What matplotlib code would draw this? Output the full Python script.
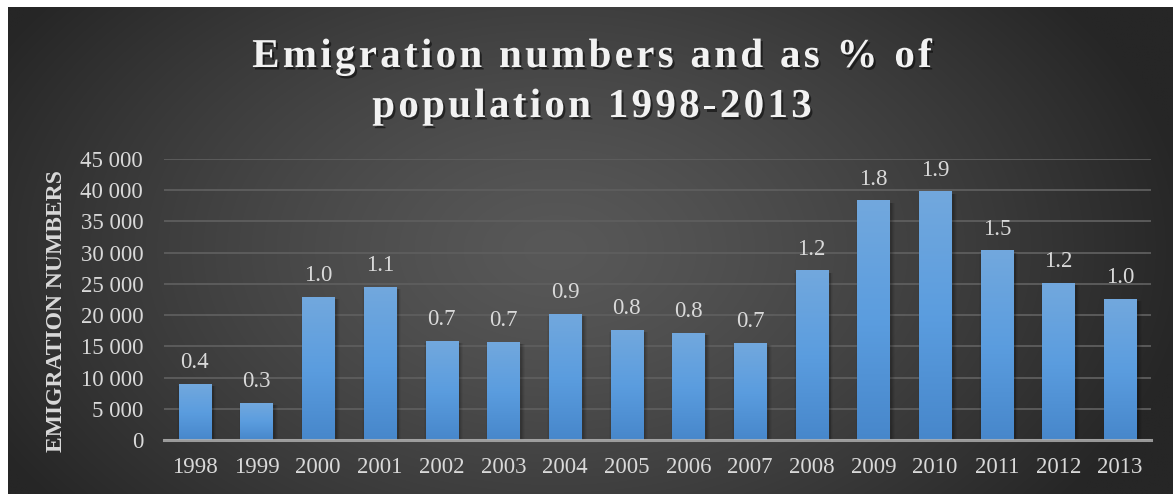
import numpy as np
import matplotlib
matplotlib.use("Agg")
import matplotlib.pyplot as plt
import matplotlib.patheffects as pe
from matplotlib import font_manager
from matplotlib.colors import LinearSegmentedColormap
from matplotlib.ft2font import FT2Font
from matplotlib.ticker import FuncFormatter

# ── Data ──────────────────────────────────────────────────────────────
years = ["1998", "1999", "2000", "2001", "2002", "2003", "2004", "2005",
         "2006", "2007", "2008", "2009", "2010", "2011", "2012", "2013"]
emigrants = [8950, 5900, 22850, 24450, 15800, 15650, 20150, 17550,
             17100, 15500, 27050, 38250, 39700, 30250, 25100, 22550]
pct_population = [0.4, 0.3, 1.0, 1.1, 0.7, 0.7, 0.9, 0.8,
                  0.8, 0.7, 1.2, 1.8, 1.9, 1.5, 1.2, 1.0]
y_ticks = [0, 5000, 10000, 15000, 20000, 25000, 30000, 35000, 40000, 45000]
title_lines = ["Emigration numbers and as % of", "population 1998-2013"]
y_label = "EMIGRATION NUMBERS"

W, H, DPI = 1173, 494, 100
SERIF = "Liberation Serif"
LABEL_COLOR = "#d9d9d9"

fig = plt.figure(figsize=(W / DPI, H / DPI), dpi=DPI, facecolor="white")

# ── Dark radial background ────────────────────────────────────────────
bg = fig.add_axes([8 / W, 0, 1 - 8 / W, 1 - 7 / H])
bg.set_axis_off()
gy, gx = np.mgrid[0:1:300j, 0:1:700j]
r = np.sqrt(((gx - 0.47) / 0.55) ** 2 + ((gy - 0.5) / 0.85) ** 2)
t = np.clip(r, 0, 1) ** 1.3
shade = (88 + (38 - 88) * t) / 255.0
bg.imshow(np.dstack([shade, shade, shade]), extent=[0, 1, 0, 1],
          aspect="auto", interpolation="bilinear")
bg.set_xlim(0, 1)
bg.set_ylim(0, 1)

# ── Plot area ─────────────────────────────────────────────────────────
ax_left, ax_right = 164, 1151
ax_bottom, ax_top = 440, 158.75
ax = fig.add_axes([ax_left / W, (H - ax_bottom) / H,
                   (ax_right - ax_left) / W, (ax_bottom - ax_top) / H])
ax.patch.set_alpha(0)

x = np.arange(len(years))
bar_w = 0.52
px_x = (len(years)) / (ax_right - ax_left)      # data units per pixel (x)
px_y = 45000 / (ax_bottom - ax_top)             # data units per pixel (y)

bar_cmap = LinearSegmentedColormap.from_list("bar", ["#4787cb", "#5b9ddf", "#72a8dd"])
grad = np.linspace(0, 1, 256).reshape(-1, 1)

for xi, v in zip(x, emigrants):
    x0, x1 = xi - bar_w / 2, xi + bar_w / 2
    # soft drop shadow, offset to the lower right
    for k, a in [(7, 0.04), (5, 0.06), (3, 0.08), (1.5, 0.10)]:
        ax.add_patch(plt.Rectangle((x0 + 2 * px_x - k * px_x / 2, -k * px_y),
                                   bar_w + k * px_x, v + k * px_y - 2 * px_y,
                                   facecolor="black", alpha=a, lw=0, zorder=2))
    ax.imshow(grad, extent=[x0, x1, 0, v], origin="lower", cmap=bar_cmap,
              aspect="auto", zorder=3, interpolation="bilinear")

for xi, v, p in zip(x, emigrants, pct_population):
    ax.annotate(f"{p:.1f}", (xi, v), xytext=(0, 11.5), textcoords="offset points",
                ha="center", va="baseline", fontsize=16.5, family=SERIF,
                color=LABEL_COLOR, zorder=5)

ax.set_xlim(-0.5, len(years) - 0.5)
ax.set_ylim(0, 45000)
ax.set_yticks(y_ticks)
ax.yaxis.set_major_formatter(FuncFormatter(lambda v, _: f"{int(v):,}".replace(",", " ")))
ax.set_xticks(x)
ax.set_xticklabels(years)
ax.grid(axis="y", color="#5e5e5e", linewidth=1.3, zorder=1)
ax.set_axisbelow(True)
for s in ["top", "right", "left"]:
    ax.spines[s].set_visible(False)
ax.spines["bottom"].set_color("#b4b4b4")
ax.spines["bottom"].set_alpha(0.8)
ax.spines["bottom"].set_linewidth(2.2)
ax.spines["bottom"].set_zorder(6)
ax.tick_params(axis="both", length=0, labelsize=16.5, labelcolor=LABEL_COLOR)
ax.tick_params(axis="y", pad=15)
ax.tick_params(axis="x", pad=12)
for lab in ax.get_xticklabels() + ax.get_yticklabels():
    lab.set_family(SERIF)

fig.text(57 / W, (H - 311) / H, y_label, rotation=90, ha="center", va="center",
         fontsize=17, fontweight="bold", family=SERIF, color=LABEL_COLOR)

# ── Title with letter spacing ─────────────────────────────────────────
title_props = font_manager.FontProperties(family=SERIF, weight="bold")
title_font = FT2Font(font_manager.findfont(title_props))
title_size = 29.5
title_font.set_size(title_size, 72)
tracking = 3.3  # extra pixels between glyphs
shadow = [pe.SimplePatchShadow(offset=(1.5, -1.8), shadow_rgbFace="black", alpha=0.5),
          pe.Normal()]


def advance_px(ch):
    g = title_font.load_char(ord(ch))
    return g.linearHoriAdvance / 65536 * DPI / 72


for line, baseline in zip(title_lines, [67, 117]):
    widths = [advance_px(c) for c in line]
    total = sum(widths) + tracking * (len(line) - 1)
    cur = 592 - total / 2
    for c, w in zip(line, widths):
        if c != " ":
            fig.text(cur / W, (H - baseline) / H, c, ha="left", va="baseline",
                     fontsize=title_size, fontweight="bold", family=SERIF,
                     color="#f2f2f2", path_effects=shadow)
        cur += w + tracking

fig.savefig("out.png", dpi=DPI, facecolor=fig.get_facecolor())
